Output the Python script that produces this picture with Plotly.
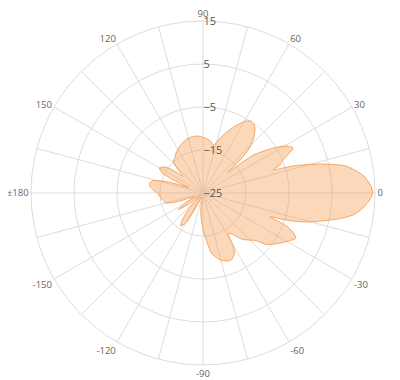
import plotly.graph_objects as go

angles = [-180, -176, -170, -165, -161, -158, -152, -146, -142, -138, -132, -127, -124, -120,
          -116, -110, -104, -98, -95, -90, -86, -82, -76, -70, -67, -63, -60.5, -58, -54, -50,
          -46, -42, -39, -34, -30, -26, -23.5, -21.5, -19.5, -18, -16, -13.5, -11, -8.3, -5.5,
          -2.8, 0, 2.7, 6.4, 10.7, 13.9, 16.7, 18.3, 20, 22.4, 26.6, 29.8, 32.7, 37, 39.5, 41.5,
          44, 46.7, 50.5, 53.5, 56.3, 59.7, 64.5, 71, 75, 78, 82, 88, 95, 102, 108, 116, 124,
          129, 133, 137, 140, 143, 146, 150, 154, 157, 159, 162, 166, 170, 174, 178, 180]
gain_db = [-14.5, -14.8, -15.5, -16.1, -19, -23, -21, -18, -21, -24, -20, -16.8, -15.8, -17,
           -21, -24, -24, -21.5, -19.6, -16.5, -14, -10.9, -9, -8.2, -8.1, -9, -10.5, -14, -13, -11,
           -9.8, -8.5, -6, -4, -2.5, -1, -2.2, -4.3, -8.5, -4.7, -0.5, 3, 6.8, 10.3, 12.3,
           13.6, 14.5, 14, 12.4, 8.8, 3, -3.1, -7.9, -6, -4.9, -1.6, -3, -5.7, -10.4, -17.5, -13.5,
           -10, -8, -6, -5.1, -4.9, -5.7, -7.8, -10.8, -12.8, -13.6, -12.8, -12.2, -11.7, -11.7, -12,
           -12.8, -13.8, -14.6, -14.8, -17, -19, -16, -14.2, -13.3, -14.5, -19, -21.5, -17, -13,
           -12.4, -12.8, -13.8, -14.5]

radial_ticks = [-25, -15, -5, 5, 15]
angular_ticks = list(range(0, 360, 15))
angular_labels = {0: "0", 30: "30", 60: "60", 90: "90", 120: "120", 150: "150", 180: "±180",
                  210: "-150", 240: "-120", 270: "-90", 300: "-60", 330: "-30"}
angular_text = [angular_labels.get(a, "") for a in angular_ticks]

fig = go.Figure()
fig.add_trace(go.Scatterpolar(
    r=gain_db, theta=angles, mode="lines", fill="toself",
    line=dict(color="#f7a35c", width=1, shape="spline", smoothing=0.6),
    fillcolor="rgba(247,163,92,0.42)",
))

grid = "#dcdcdc"
fig.update_layout(
    width=400, height=380,
    margin=dict(l=23, r=33, t=13, b=23),
    paper_bgcolor="white",
    showlegend=False,
    font=dict(family="Open Sans", color="#666"),
    polar=dict(
        bgcolor="white",
        radialaxis=dict(
            range=[-25, 15], tickvals=radial_ticks, angle=90, tickangle=90,
            showline=False, ticks="", gridcolor=grid, gridwidth=1,
            tickfont=dict(size=11, color="#555"),
        ),
        angularaxis=dict(
            direction="counterclockwise", rotation=0,
            tickvals=angular_ticks, ticktext=angular_text,
            ticks="", showline=True, linecolor=grid, gridcolor=grid,
            tickfont=dict(size=9.5, color="#666"),
        ),
    ),
)

fig.write_html("out.html")
